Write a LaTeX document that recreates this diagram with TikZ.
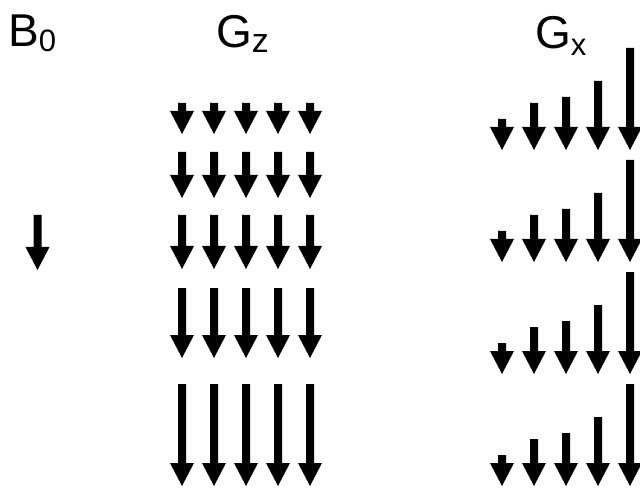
\documentclass[tikz,border=0pt]{standalone}
\usepackage{fontspec}
\setmainfont{Liberation Sans}

% one solid downward field arrow: centre x, top of shaft, tip
\newcommand\fieldarrow[3]{%
  \fill[fieldfill] (#1-4,#2) -- (#1+4,#2) -- (#1+4,#3-23) -- (#1+12,#3-23)
    -- (#1,#3) -- (#1-12,#3-23) -- (#1-4,#3-23) -- cycle;}

\begin{document}
\begin{tikzpicture}[x=1pt,y=-1pt,
  fieldfill/.style={black},
  heading/.style={anchor=base west,inner sep=0pt,font=\fontsize{46}{50}\selectfont}]
\useasboundingbox[fill=white] (0,0) rectangle (640,489);

% headings
\node[heading] (b0) at (8,47) {B\raisebox{-5pt}{\fontsize{31}{32}\selectfont 0}};
\node[heading] (gz) at (216,47.5) {G\raisebox{-5pt}{\fontsize{34}{35}\selectfont z}};
\node[heading] (gx) at (535,49) {G\raisebox{-6.5pt}{\fontsize{31}{32}\selectfont x}};

% uniform static field
\fieldarrow{37.5}{215}{270}

% G_z: strength grows from row to row
\foreach \ya/\yb in {103/134, 152/198, 215/269, 288/358, 384/486}{
  \foreach \i in {0,...,4}{
    \fieldarrow{182+32*\i}{\ya}{\yb}}}

% G_x: strength grows from column to column
\foreach \yb in {150, 262, 374, 486}{
  \foreach \len [count=\i from 0] in {31, 47, 53, 69, 102}{
    \fieldarrow{502+32*\i}{\yb-\len}{\yb}}}
\end{tikzpicture}
\end{document}
